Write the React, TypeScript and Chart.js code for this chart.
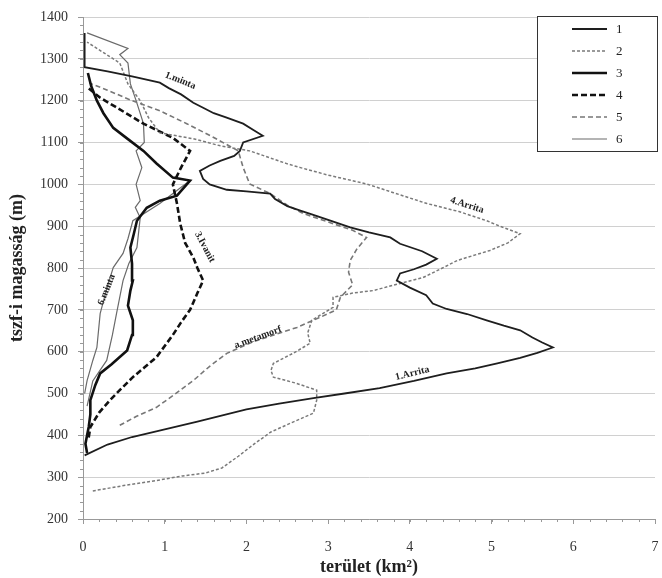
import React, { useEffect, useRef } from 'react';
import { Chart, registerables } from 'chart.js';

Chart.register(...registerables);

// ---- data ----
const seriesNames = ['1', '2', '3', '4', '5', '6'];
const xAxisTitle = 'terület (km²)';
const yAxisTitle = 'tszf-i magasság (m)';

// [terület km², magasság m]
const curve1: [number, number][] = [
  [0.02, 352], [0.3, 378], [0.6, 396], [1.0, 414], [1.4, 433], [2.0, 462], [2.4, 476], [2.82, 489],
  [3.2, 500], [3.63, 513], [4.05, 530], [4.45, 548], [4.8, 560], [5.07, 572], [5.35, 585], [5.56, 597],
  [5.75, 610], [5.62, 622], [5.5, 634], [5.35, 651], [5.15, 662], [4.94, 675], [4.7, 690], [4.45, 702],
  [4.28, 715], [4.2, 735], [4.0, 753], [3.84, 770], [3.88, 787], [4.05, 797], [4.2, 808], [4.33, 822],
  [4.15, 840], [3.88, 858], [3.76, 873], [3.5, 885], [3.27, 897], [3.0, 915], [2.8, 928], [2.66, 937],
  [2.5, 948], [2.35, 965], [2.29, 978], [2.0, 983], [1.76, 987], [1.55, 1000], [1.47, 1013], [1.43, 1032],
  [1.55, 1045], [1.68, 1056], [1.85, 1068], [1.92, 1080], [1.96, 1100], [2.2, 1116], [2.1, 1128],
  [1.96, 1145], [1.75, 1160], [1.6, 1170], [1.47, 1183], [1.35, 1195], [1.2, 1215], [1.05, 1230],
  [0.94, 1243], [0.6, 1258], [0.3, 1270], [0.02, 1280], [0.02, 1362],
];
const curve2: [number, number][] = [
  [0.12, 267], [0.5, 280], [0.9, 292], [1.22, 303], [1.5, 310], [1.7, 322], [1.9, 350], [2.1, 380],
  [2.3, 408], [2.55, 430], [2.82, 453], [2.86, 484], [2.86, 508], [2.6, 525], [2.33, 539], [2.3, 555],
  [2.33, 572], [2.57, 596], [2.78, 620], [2.75, 645], [2.8, 675], [3.06, 706], [3.06, 730], [3.3, 740],
  [3.55, 746], [3.88, 763], [4.16, 777], [4.4, 800], [4.58, 818], [4.98, 842], [5.2, 860], [5.35, 882],
  [5.1, 900], [4.94, 913], [4.6, 935], [4.21, 954], [3.8, 980], [3.47, 1001], [3.0, 1022], [2.66, 1040],
  [2.5, 1049], [2.04, 1080], [1.68, 1092], [1.35, 1109], [0.94, 1123], [0.8, 1160], [0.7, 1200],
  [0.55, 1240], [0.45, 1290], [0.05, 1340],
];
const curve3: [number, number][] = [
  [0.05, 358], [0.03, 380], [0.05, 400], [0.07, 420], [0.09, 450], [0.09, 484], [0.15, 520], [0.21, 548],
  [0.35, 570], [0.54, 603], [0.6, 640], [0.61, 675], [0.55, 710], [0.58, 746], [0.61, 770], [0.6, 810],
  [0.58, 849], [0.62, 880], [0.66, 913], [0.78, 944], [0.94, 961], [1.15, 973], [1.31, 1009],
  [1.1, 1016], [0.9, 1050], [0.74, 1080], [0.55, 1108], [0.37, 1135], [0.25, 1170], [0.17, 1200],
  [0.1, 1235], [0.06, 1266],
];
const curve4: [number, number][] = [
  [0.07, 395], [0.09, 420], [0.2, 455], [0.33, 484], [0.47, 512], [0.61, 539], [0.75, 562], [0.9, 587],
  [1.1, 640], [1.2, 670], [1.31, 700], [1.4, 740], [1.47, 770], [1.4, 800], [1.35, 825], [1.25, 860],
  [1.19, 906], [1.15, 954], [1.1, 1000], [1.2, 1040], [1.31, 1080], [1.1, 1111], [0.74, 1145],
  [0.4, 1185], [0.21, 1207], [0.06, 1231],
];
const curve5: [number, number][] = [
  [0.45, 424], [0.65, 445], [0.9, 467], [1.1, 495], [1.35, 531], [1.55, 565], [1.76, 596], [2.1, 625],
  [2.62, 658], [2.9, 682], [3.1, 700], [3.15, 730], [3.3, 760], [3.25, 790], [3.27, 818], [3.35, 845],
  [3.47, 873], [3.3, 890], [3.0, 910], [2.7, 930], [2.5, 950], [2.29, 978], [2.04, 1001], [1.96, 1040],
  [1.9, 1080], [1.6, 1112], [1.27, 1145], [0.94, 1176], [0.6, 1200], [0.3, 1225], [0.08, 1242],
];
const curve6: [number, number][] = [
  [0.05, 470], [0.12, 530], [0.29, 579], [0.36, 640], [0.41, 691], [0.49, 770], [0.56, 810], [0.66, 849],
  [0.7, 920], [0.64, 945], [0.7, 961], [0.65, 1000], [0.72, 1040], [0.65, 1080], [0.75, 1100],
  [0.74, 1145], [0.65, 1200], [0.58, 1240], [0.55, 1290], [0.45, 1310], [0.55, 1325], [0.05, 1362],
];
const curve6b: [number, number][] = [
  [0.02, 500], [0.05, 531], [0.12, 579], [0.17, 610], [0.21, 691], [0.29, 750], [0.37, 801],
  [0.49, 835], [0.55, 870], [0.61, 913], [0.94, 954], [1.31, 1009],
];

const curveLabels = [
  { text: '1.Arrita', x: 4.03, y: 548, angle: -14 },
  { text: '4.Arrita', x: 4.7, y: 950, angle: 18 },
  { text: '1.minta', x: 1.19, y: 1248, angle: 22 },
  { text: '3.Ivanit', x: 1.49, y: 850, angle: 62 },
  { text: 'a.metamorf', x: 2.14, y: 634, angle: -20 },
  { text: '6.minta', x: 0.29, y: 748, angle: -68 },
];

const toPts = (c: [number, number][]) => c.map(([x, y]) => ({ x, y }));

const FONT = "'Liberation Serif', 'DejaVu Serif', serif";

const minorTicksPlugin = {
  id: 'minorTicks',
  afterDraw(chart: any) {
    const { ctx, chartArea, scales } = chart;
    const xs = scales.x, ys = scales.y;
    ctx.save();
    ctx.strokeStyle = '#999';
    ctx.lineWidth = 1;
    ctx.beginPath();
    for (let v = 200; v <= 1400; v += 20) {
      const py = Math.round(ys.getPixelForValue(v)) + 0.5;
      ctx.moveTo(chartArea.left - 3, py);
      ctx.lineTo(chartArea.left, py);
    }
    for (let i = 0; i <= 35; i++) {
      const px = Math.round(xs.getPixelForValue(i * 0.2)) + 0.5;
      ctx.moveTo(px, chartArea.bottom);
      ctx.lineTo(px, chartArea.bottom + 3);
    }
    ctx.stroke();
    ctx.restore();
  },
};

const curveLabelPlugin = {
  id: 'curveLabels',
  afterDatasetsDraw(chart: any) {
    const { ctx, scales } = chart;
    ctx.save();
    ctx.fillStyle = '#222';
    ctx.font = `bold 10px ${FONT}`;
    ctx.textAlign = 'center';
    ctx.textBaseline = 'middle';
    curveLabels.forEach((l) => {
      const px = scales.x.getPixelForValue(l.x);
      const py = scales.y.getPixelForValue(l.y);
      ctx.save();
      ctx.translate(px, py);
      ctx.rotate((l.angle * Math.PI) / 180);
      ctx.fillText(l.text, 0, 0);
      ctx.restore();
    });
    ctx.restore();
  },
};

const legendBoxPlugin = {
  id: 'legendBox',
  afterDraw(chart: any) {
    const { ctx, chartArea } = chart;
    const right = chartArea.right + 2;
    const left = right - 120;
    const top = chartArea.top - 1;
    const height = 135;
    ctx.save();
    ctx.fillStyle = '#fff';
    ctx.fillRect(left, top, right - left, height);
    ctx.strokeStyle = '#333';
    ctx.lineWidth = 1;
    ctx.strokeRect(Math.round(left) + 0.5, Math.round(top) + 0.5, right - left, height);
    const datasets = chart.data.datasets.filter((d: any) => !d.hideInLegend);
    datasets.forEach((d: any, i: number) => {
      const y = top + 13 + i * 22;
      ctx.save();
      ctx.strokeStyle = d.borderColor;
      ctx.lineWidth = d.borderWidth;
      ctx.setLineDash(d.borderDash || []);
      ctx.beginPath();
      ctx.moveTo(left + 35, y);
      ctx.lineTo(left + 70, y);
      ctx.stroke();
      ctx.restore();
      ctx.fillStyle = '#222';
      ctx.font = `13px ${FONT}`;
      ctx.textAlign = 'left';
      ctx.textBaseline = 'middle';
      ctx.fillText(d.label, left + 79, y + 1);
    });
    ctx.restore();
  },
};

export default function App() {
  const ref = useRef<HTMLCanvasElement>(null);
  useEffect(() => {
    document.body.style.margin = '0';
    const canvas = ref.current!;
    const styles = [
      { color: '#1e1e1e', width: 1.8, dash: [] as number[] },
      { color: '#7a7a7a', width: 1.5, dash: [3, 2] },
      { color: '#111111', width: 2.6, dash: [] as number[] },
      { color: '#111111', width: 2.6, dash: [6, 3] },
      { color: '#777777', width: 1.6, dash: [5, 3] },
      { color: '#6a6a6a', width: 1.2, dash: [] as number[] },
    ];
    const curves = [curve1, curve2, curve3, curve4, curve5, curve6];
    const datasets: any[] = curves.map((c, i) => ({
      label: seriesNames[i],
      data: toPts(c),
      showLine: true,
      borderColor: styles[i].color,
      borderWidth: styles[i].width,
      borderDash: styles[i].dash,
      pointRadius: 0,
      fill: false,
      tension: 0,
    }));
    datasets.push({
      label: seriesNames[5],
      hideInLegend: true,
      data: toPts(curve6b),
      showLine: true,
      borderColor: styles[5].color,
      borderWidth: styles[5].width,
      borderDash: [],
      pointRadius: 0,
      fill: false,
      tension: 0,
    });
    const chart = new Chart(canvas, {
      type: 'scatter',
      data: { datasets },
      options: {
        animation: false,
        responsive: false,
        devicePixelRatio: 1,
        layout: { padding: { top: 17, right: 7, left: 0, bottom: 0 } },
        plugins: { legend: { display: false }, tooltip: { enabled: false } },
        scales: {
          x: {
            type: 'linear',
            min: 0,
            max: 7,
            ticks: { stepSize: 1, color: '#333', font: { family: FONT, size: 14 }, padding: 15, callback: (v: any) => String(v) },
            grid: { display: true, drawOnChartArea: false, drawTicks: true, tickLength: 5, tickColor: '#999' },
            border: { display: true, color: '#999' },
            title: { display: true, text: xAxisTitle, color: '#222', font: { family: FONT, size: 18, weight: 'bold' }, padding: { top: 2, bottom: 0 } },
            afterFit: (s: any) => { s.height = 59; s.paddingLeft = 0; s.paddingRight = 0; },
          },
          y: {
            type: 'linear',
            min: 200,
            max: 1400,
            ticks: { stepSize: 100, color: '#333', font: { family: FONT, size: 14 }, padding: 10, callback: (v: any) => String(v) },
            grid: { display: true, color: '#d0d0d0', drawTicks: true, tickLength: 5, tickColor: '#999' },
            border: { display: true, color: '#999' },
            title: { display: true, text: yAxisTitle, color: '#222', font: { family: FONT, size: 18, weight: 'bold' }, padding: { top: 7, bottom: 0 } },
            afterFit: (s: any) => { s.width = 83; s.paddingTop = 0; s.paddingBottom = 0; },
          },
        },
      } as any,
      plugins: [minorTicksPlugin, curveLabelPlugin, legendBoxPlugin],
    });
    return () => chart.destroy();
  }, []);
  return (
    <div style={{ width: 662, height: 578, background: '#fff' }}>
      <canvas ref={ref} width={662} height={578} style={{ display: 'block' }} />
    </div>
  );
}
